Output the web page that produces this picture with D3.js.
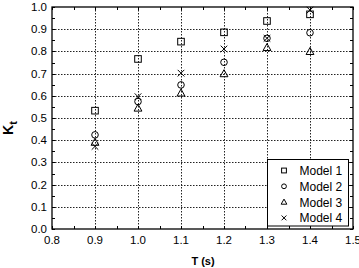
<!DOCTYPE html>
<html>
<head>
<meta charset="utf-8">
<script src="https://cdn.jsdelivr.net/npm/d3@7"></script>
<style>
  body { margin: 0; background: #fff; }
  text { font-family: "Liberation Sans", Arial, sans-serif; fill: #000; }
</style>
</head>
<body>
<div id="chart"></div>
<script>
// periods T (s)
const periods = [0.9, 1.0, 1.1, 1.2, 1.3, 1.4];
const modelNames = ["Model 1", "Model 2", "Model 3", "Model 4"];
const model1 = [0.533, 0.766, 0.844, 0.886, 0.937, 0.967];
const model2 = [0.424, 0.574, 0.649, 0.751, 0.859, 0.884];
const model3 = [0.390, 0.544, 0.612, 0.699, 0.817, 0.799];
const model4 = [0.372, 0.596, 0.702, 0.811, 0.859, 0.986];
const xTicks = [0.8, 0.9, 1.0, 1.1, 1.2, 1.3, 1.4, 1.5];
const yTicks = [0, 0.1, 0.2, 0.3, 0.4, 0.5, 0.6, 0.7, 0.8, 0.9, 1.0];

const width = 359, height = 268;
const margin = { top: 7, right: 6, bottom: 39, left: 52 };
const w = width - margin.left - margin.right;
const h = height - margin.top - margin.bottom;

const svg = d3.select('#chart').append('svg')
    .attr('width', width)
    .attr('height', height);

const g = svg.append('g').attr('transform', `translate(${margin.left},${margin.top})`);

const x = d3.scaleLinear().domain([0.8, 1.5]).range([0, w]);
const y = d3.scaleLinear().domain([0, 1.0]).range([h, 0]);

// dotted grid
g.append('g').selectAll('line')
    .data(xTicks.slice(1, -1))
    .enter().append('line')
    .attr('x1', d => Math.round(x(d)) + 0.5).attr('x2', d => Math.round(x(d)) + 0.5)
    .attr('y1', 0).attr('y2', h)
    .attr('stroke', '#222').attr('stroke-dasharray', '1.5,1.5');
g.append('g').selectAll('line')
    .data(yTicks.slice(1, -1))
    .enter().append('line')
    .attr('y1', d => Math.round(y(d)) + 0.5).attr('y2', d => Math.round(y(d)) + 0.5)
    .attr('x1', 0).attr('x2', w)
    .attr('stroke', '#222').attr('stroke-dasharray', '1.5,1.5');

// inward ticks on all sides (majors + minors)
const xMinor = d3.range(0.8, 1.5001, 0.05);
const yMinor = d3.range(0, 1.0001, 0.05);
const tickLen = 3;
const ticks = g.append('g').attr('stroke', '#000');
xMinor.forEach(v => {
    const px = Math.round(x(v)) + 0.5;
    ticks.append('line').attr('x1', px).attr('x2', px).attr('y1', h).attr('y2', h - tickLen);
    ticks.append('line').attr('x1', px).attr('x2', px).attr('y1', 0).attr('y2', tickLen);
});
yMinor.forEach(v => {
    const py = Math.round(y(v)) + 0.5;
    ticks.append('line').attr('y1', py).attr('y2', py).attr('x1', 0).attr('x2', tickLen);
    ticks.append('line').attr('y1', py).attr('y2', py).attr('x1', w).attr('x2', w - tickLen);
});

// frame
g.append('rect')
    .attr('x', 0).attr('y', 0).attr('width', w).attr('height', h)
    .attr('fill', 'none').attr('stroke', '#000').attr('stroke-width', 1.3);

// tick labels
g.append('g').selectAll('text')
    .data(xTicks)
    .enter().append('text')
    .attr('x', d => x(d))
    .attr('y', h + 15)
    .attr('text-anchor', 'middle')
    .style('font-size', '11.5px')
    .text(d => d.toFixed(1));
g.append('g').selectAll('text')
    .data(yTicks)
    .enter().append('text')
    .attr('x', -5)
    .attr('y', d => y(d) + 4)
    .attr('text-anchor', 'end')
    .style('font-size', '11.5px')
    .text(d => d.toFixed(1));

// axis titles
svg.append('text')
    .attr('x', 203).attr('y', 265)
    .attr('text-anchor', 'middle')
    .style('font-size', '11px').style('font-weight', 'bold')
    .text('T (s)');
const yl = svg.append('text')
    .attr('transform', 'translate(13,128) rotate(-90)')
    .attr('text-anchor', 'middle')
    .style('font-size', '14px').style('font-weight', 'bold');
yl.append('tspan').text('K');
yl.append('tspan').attr('dy', 4).style('font-size', '11px').text('t');

// markers
const drawMarker = (sel, kind, s) => {
    if (kind === 0) {
        sel.append('rect').attr('x', -s).attr('y', -s).attr('width', 2 * s).attr('height', 2 * s);
    } else if (kind === 1) {
        sel.append('circle').attr('r', s);
    } else if (kind === 2) {
        const r = s * 1.25;
        sel.append('path').attr('d', `M0,${-r}L${r * 0.95},${r * 0.7}L${-r * 0.95},${r * 0.7}Z`);
    } else {
        sel.append('path').attr('d', `M${-s},${-s}L${s},${s}M${-s},${s}L${s},${-s}`);
    }
};

const series = [model1, model2, model3, model4];
series.forEach((vals, k) => {
    const grp = g.append('g')
        .attr('fill', 'none').attr('stroke', '#000').attr('stroke-width', 1);
    vals.forEach((v, i) => {
        const m = grp.append('g').attr('transform', `translate(${x(periods[i])},${y(v)})`);
        drawMarker(m, k, 3.3);
    });
});

// legend
const lg = svg.append('g').attr('transform', 'translate(267.5,159.5)');
lg.append('rect')
    .attr('width', 81).attr('height', 66.5)
    .attr('fill', '#fff').attr('stroke', '#000').attr('stroke-width', 1);
modelNames.forEach((name, k) => {
    const row = lg.append('g').attr('transform', `translate(0,${11 + k * 15.8})`);
    const m = row.append('g').attr('transform', 'translate(16.5,0)')
        .attr('fill', 'none').attr('stroke', '#000').attr('stroke-width', 1);
    drawMarker(m, k, 2.4);
    row.append('text').attr('x', 32).attr('y', 4.5)
        .style('font-size', '12px')
        .text(name);
});
</script>
</body>
</html>
